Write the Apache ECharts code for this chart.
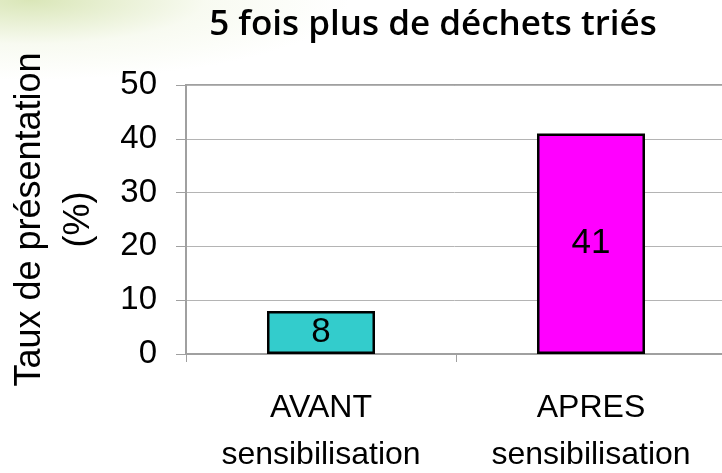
<!DOCTYPE html>
<html>
<head>
<meta charset="utf-8">
<script src="https://cdn.jsdelivr.net/npm/echarts@6/dist/echarts.min.js"></script>
<style>
html,body{margin:0;padding:0;width:722px;height:473px;overflow:hidden;background:#fff;}
#bg{position:absolute;left:0;top:0;width:722px;height:473px;
background:radial-gradient(ellipse 320px 80px at 30px 0px, rgba(205,222,160,0.75), rgba(235,242,215,0.35) 55%, rgba(255,255,255,0) 100%);}
#chart{position:absolute;left:0;top:0;width:722px;height:473px;}
</style>
</head>
<body>
<div id="bg"></div>
<div id="chart"></div>
<script>
const categories = ["AVANT\nsensibilisation", "APRES\nsensibilisation"];
const values = [8, 41];
const barColors = ["#33CCCC", "#FF00FF"];
const titleText = "5 fois plus de déchets triés";
const yAxisName = "Taux de présentation\n(%)";

const chart = echarts.init(document.getElementById('chart'), null, {renderer: 'canvas'});
chart.setOption({
  backgroundColor: 'transparent',
  animation: false,
  title: {
    text: titleText,
    left: 428, top: 3, textAlign: 'center',
    textStyle: {fontFamily: 'Open Sans', fontWeight: 600, fontSize: 35, color: '#000'}
  },
  grid: {
    left: 186, top: 85, width: 540, height: 269,
    outerBoundsMode: 'none', containLabel: false,
    show: true, borderColor: '#a0a0a0', borderWidth: 2, backgroundColor: 'transparent'
  },
  xAxis: {
    type: 'category',
    data: categories,
    axisLine: {show: true, lineStyle: {color: '#a0a0a0', width: 2}},
    axisTick: {show: true, alignWithLabel: false, length: 8, lineStyle: {color: '#a0a0a0', width: 1}},
    axisLabel: {
      interval: 0, hideOverlap: false,
      margin: 31, color: '#000', fontFamily: 'Liberation Sans', fontSize: 32, lineHeight: 47
    }
  },
  yAxis: {
    type: 'value', min: 0, max: 50, interval: 10,
    name: yAxisName, nameLocation: 'middle', nameGap: 82,
    nameTextStyle: {fontFamily: 'Liberation Sans', fontSize: 36, color: '#000', lineHeight: 49},
    axisLine: {show: true, lineStyle: {color: '#a0a0a0', width: 2}},
    axisTick: {show: true, length: 10, lineStyle: {color: '#a0a0a0', width: 1}},
    axisLabel: {margin: 29, color: '#000', fontFamily: 'Liberation Sans', fontSize: 33},
    splitLine: {show: true, lineStyle: {color: '#b4b4b4', width: 1}}
  },
  series: [{
    type: 'bar',
    barWidth: '40%',
    data: values.map((v, i) => ({value: v, itemStyle: {color: barColors[i]}})),
    itemStyle: {borderColor: '#000', borderWidth: 2.5},
    label: {show: true, position: 'inside', color: '#000', fontFamily: 'Liberation Sans', fontSize: 35}
  }]
});
</script>
</body>
</html>
